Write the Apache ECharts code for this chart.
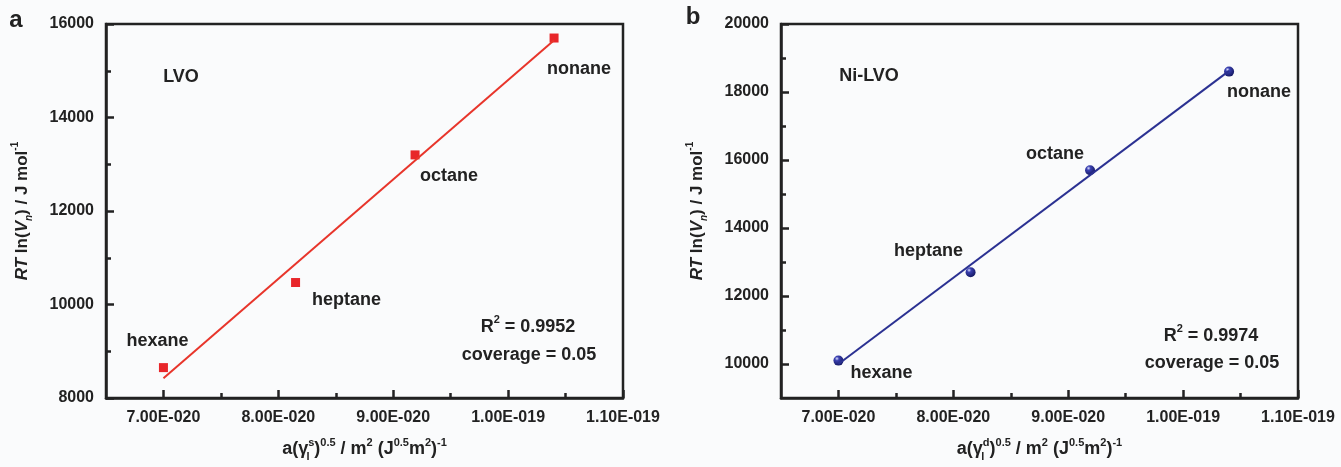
<!DOCTYPE html>
<html>
<head>
<meta charset="utf-8">
<script src="https://cdn.jsdelivr.net/npm/echarts@6/dist/echarts.min.js"></script>
<style>
  html, body { margin: 0; padding: 0; background: #fafbfc; }
  #chart { width: 1341px; height: 467px; }
</style>
</head>
<body>
<div id="chart"></div>
<script>
// x values are in units of 1e-20 m^2 (J^0.5 m^2)^-1
const alkanes = ['hexane', 'heptane', 'octane', 'nonane']
const xValues = [7.0, 8.15, 9.19, 10.4]
const lvoY = [8650, 10470, 13200, 15700]
const niLvoY = [10100, 12700, 15700, 18600]
// fitted lines, end points
const lvoFit = [[7.0, 8420], [10.4, 15650]]
const niLvoFit = [[7.0, 10000], [10.4, 18620]]
// ticks
const xMajor = [7, 8, 9, 10, 11]
const xMinor = [7.5, 8.5, 9.5, 10.5]
const yMajorA = [8000, 10000, 12000, 14000, 16000]
const yMinorA = [9000, 11000, 13000, 15000]
const yMajorB = [10000, 12000, 14000, 16000, 18000, 20000]
const yMinorB = [11000, 13000, 15000, 17000, 19000]

// label placement (pixels from the point)
const labelOffsetA = [[-6, -27], [51, 18], [34, 21], [25, 31]]
const labelOffsetB = [[43, 12], [-42, -21], [-35, -16], [30, 20]]

const FONT = "'Liberation Sans', Arial, sans-serif"
const INK = '#222'

function sci(v) {
  const e = Math.floor(Math.log10(v) + 1e-9) - 20
  const m = v / Math.pow(10, e + 20)
  return m.toFixed(2) + 'E' + (e < 0 ? '-' : '+') + String(Math.abs(e)).padStart(3, '0')
}

function makeRich(big, small) {
  const base = { fontFamily: FONT, fontWeight: 'bold', color: INK }
  return {
    n: { ...base, fontSize: big, lineHeight: big + 7 },
    i: { ...base, fontSize: big, fontStyle: 'italic', lineHeight: big + 7 },
    sup: { ...base, fontSize: small, lineHeight: small, verticalAlign: 'top' },
    sub: { ...base, fontSize: small, lineHeight: small, verticalAlign: 'bottom' },
    subi: { ...base, fontSize: small, fontStyle: 'italic', lineHeight: small, verticalAlign: 'bottom' },
    subz: { ...base, fontSize: small, lineHeight: small, verticalAlign: 'bottom', width: 0 }
  }
}
const yRich = makeRich(17, 10)
const xRich = makeRich(18, 11)
const noteRich = makeRich(18, 11)

const yName = '{i|RT}{n| ln(}{i|V}{subi|n}{n|) / J mol}{sup|-1}'
const xNameA = '{n|a(γ}{subz|l}{sup|s}{n|)}{sup|0.5}{n| / m}{sup|2}{n| (J}{sup|0.5}{n|m}{sup|2}{n|)}{sup|-1}'
const xNameB = '{n|a(γ}{subz|l}{sup|d}{n|)}{sup|0.5}{n| / m}{sup|2}{n| (J}{sup|0.5}{n|m}{sup|2}{n|)}{sup|-1}'

const tickStyle = { color: INK, width: 2.5 }

function xAxes(grid, name) {
  return [
    {
      type: 'value', gridIndex: grid, min: 6.5, max: 11,
      name: name, nameLocation: 'middle', nameGap: 39,
      nameTextStyle: { rich: xRich },
      axisLine: { show: true, lineStyle: { color: INK, width: 2.5 } },
      axisTick: { inside: true, length: 8, customValues: xMajor, lineStyle: tickStyle },
      axisLabel: { customValues: xMajor, formatter: sci, margin: 12, fontFamily: FONT, fontSize: 16, fontWeight: 'bold', color: INK },
      splitLine: { show: false }
    },
    {
      type: 'value', gridIndex: grid, min: 6.5, max: 11, position: 'bottom',
      axisLine: { show: false },
      axisTick: { inside: true, length: 5, customValues: xMinor, lineStyle: tickStyle },
      axisLabel: { show: false },
      splitLine: { show: false }
    }
  ]
}

function yAxes(grid, min, max, major, minor) {
  return [
    {
      type: 'value', gridIndex: grid, min: min, max: max,
      name: yName, nameLocation: 'middle', nameGap: 72, nameRotate: 90,
      nameTextStyle: { rich: yRich },
      axisLine: { show: true, lineStyle: { color: INK, width: 2.5 } },
      axisTick: { inside: true, length: 8, customValues: major, lineStyle: tickStyle },
      axisLabel: { customValues: major, formatter: v => String(v), margin: 12, fontFamily: FONT, fontSize: 16, fontWeight: 'bold', color: INK },
      splitLine: { show: false }
    },
    {
      type: 'value', gridIndex: grid, min: min, max: max, position: 'left',
      axisLine: { show: false },
      axisTick: { inside: true, length: 5, customValues: minor, lineStyle: tickStyle },
      axisLabel: { show: false },
      splitLine: { show: false }
    }
  ]
}

function points(ys, offsets) {
  return alkanes.map((name, k) => ({
    name: name,
    value: [xValues[k], ys[k]],
    label: { offset: offsets[k] }
  }))
}

const pointLabel = {
  show: true, position: 'inside', formatter: '{b}', opacity: 1,
  fontFamily: FONT, fontSize: 18, fontWeight: 'bold', color: INK,
  textBorderWidth: 0, textBorderColor: 'transparent'
}

const ball = new echarts.graphic.RadialGradient(0.35, 0.3, 0.7, [
  { offset: 0, color: '#d8dcff' },
  { offset: 0.3, color: '#3a40b0' },
  { offset: 1, color: '#161a66' }
])

function note(x, y, text, size) {
  return {
    type: 'text', x: x, y: y,
    style: { text: text, align: 'center', verticalAlign: 'middle', fontFamily: FONT, fontSize: size || 18, fontWeight: 'bold', fill: INK, rich: noteRich }
  }
}

const chart = echarts.init(document.getElementById('chart'))
chart.setOption({
  backgroundColor: '#fafbfc',
  animation: false,
  grid: [
    { left: 106, top: 24, width: 517, height: 381, show: true, borderColor: INK, borderWidth: 2.5 },
    { left: 781, top: 24, width: 517, height: 381, show: true, borderColor: INK, borderWidth: 2.5 }
  ],
  xAxis: [...xAxes(0, xNameA), ...xAxes(1, xNameB)],
  yAxis: [...yAxes(0, 8000, 16000, yMajorA, yMinorA), ...yAxes(1, 9000, 20000, yMajorB, yMinorB)],
  series: [
    {
      type: 'line', xAxisIndex: 0, yAxisIndex: 0, data: lvoFit,
      showSymbol: false, silent: true,
      lineStyle: { color: '#e8352b', width: 2 }
    },
    {
      type: 'scatter', xAxisIndex: 0, yAxisIndex: 0, data: points(lvoY, labelOffsetA),
      symbol: 'rect', symbolSize: 9,
      itemStyle: { color: '#e8262a', opacity: 1 },
      label: pointLabel
    },
    {
      type: 'line', xAxisIndex: 2, yAxisIndex: 2, data: niLvoFit,
      showSymbol: false, silent: true,
      lineStyle: { color: '#2b3192', width: 2 }
    },
    {
      type: 'scatter', xAxisIndex: 2, yAxisIndex: 2, data: points(niLvoY, labelOffsetB),
      symbol: 'circle', symbolSize: 10,
      itemStyle: { color: ball, opacity: 1 },
      label: pointLabel
    }
  ],
  graphic: [
    note(16, 20, 'a', 24),
    note(693, 17, 'b', 24),
    note(181, 77, 'LVO'),
    note(528, 327, '{n|R}{sup|2}{n| = 0.9952}'),
    note(529, 355, 'coverage = 0.05'),
    note(869, 76, 'Ni-LVO'),
    note(1211, 336, '{n|R}{sup|2}{n| = 0.9974}'),
    note(1212, 363, 'coverage = 0.05')
  ]
})
</script>
</body>
</html>
